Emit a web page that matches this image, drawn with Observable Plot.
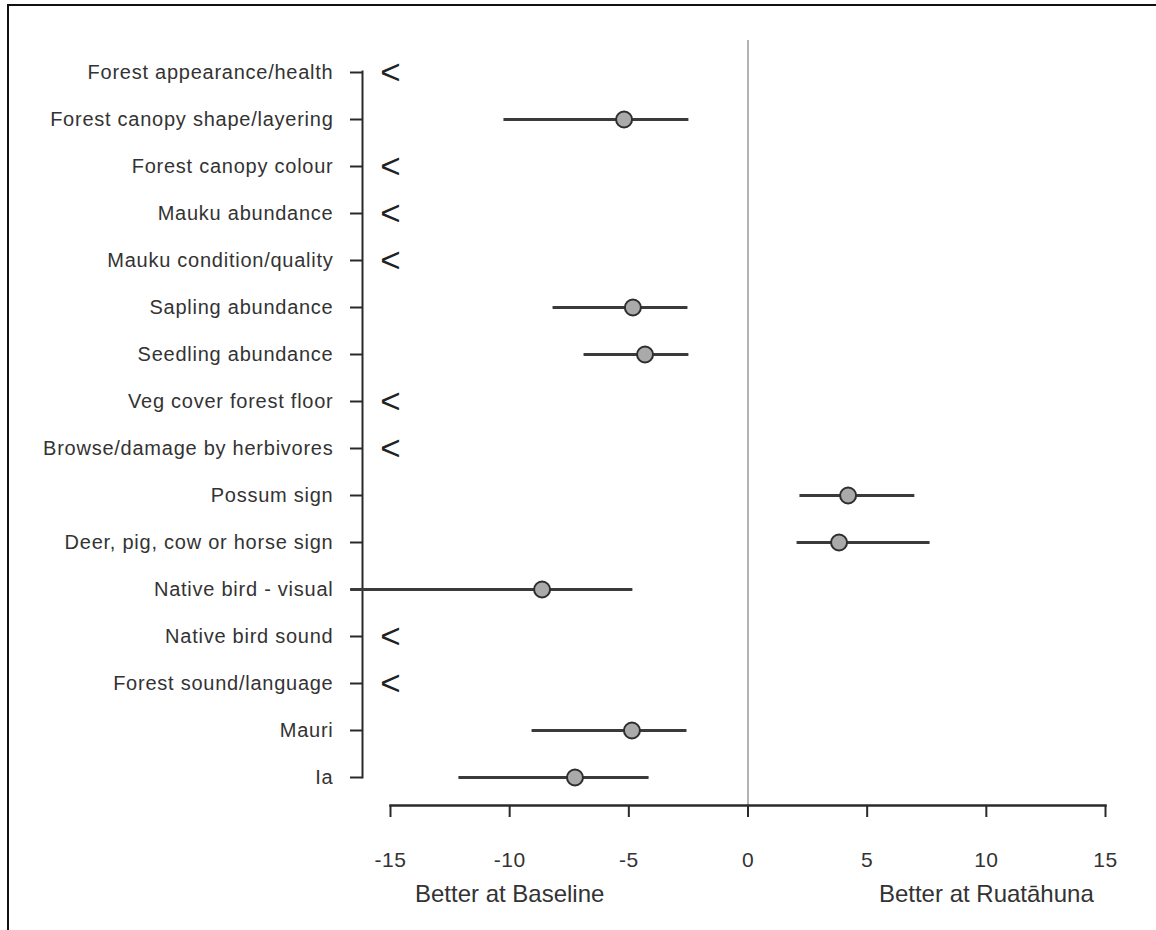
<!DOCTYPE html>
<html>
<head>
<meta charset="utf-8">
<script src="https://cdn.jsdelivr.net/npm/d3@7"></script>
<script src="https://cdn.jsdelivr.net/npm/@observablehq/plot@0.6"></script>
<style>
  html, body { margin: 0; padding: 0; background: #fff; }
  #wrap { position: relative; width: 1156px; height: 930px; overflow: hidden; background: #fff; }
  #chart { position: absolute; left: 0; top: 0; z-index: 1; }
  #border { position: absolute; left: 7px; top: 4px; width: 1300px; height: 1100px; z-index: 2;
            border-top: 2px solid #111; border-left: 2px solid #111; pointer-events: none; }
  g[aria-label="y-axis tick label"] text { letter-spacing: 0.75px; }
  g[aria-label="x-axis tick label"] text { letter-spacing: 0.5px; }
  g[aria-label="side label"] text { letter-spacing: 0.6px; }
</style>
</head>
<body>
<div id="wrap"><div id="chart"></div><div id="border"></div></div>
<script>
const categories = [
  "Forest appearance/health",
  "Forest canopy shape/layering",
  "Forest canopy colour",
  "Mauku abundance",
  "Mauku condition/quality",
  "Sapling abundance",
  "Seedling abundance",
  "Veg cover forest floor",
  "Browse/damage by herbivores",
  "Possum sign",
  "Deer, pig, cow or horse sign",
  "Native bird - visual",
  "Native bird sound",
  "Forest sound/language",
  "Mauri",
  "Ia"
];
const estimate = [null, -5.2, null, null, null, -4.83, -4.32, null, null, 4.2, 3.82, -8.64, null, null, -4.87, -7.26];
const lower    = [null, -10.24, null, null, null, -8.18, -6.88, null, null, 2.18, 2.06, -16.66, null, null, -9.06, -12.13];
const upper    = [null, -2.48, null, null, null, -2.52, -2.48, null, null, 7.0, 7.64, -4.83, null, null, -2.56, -4.15];
const xTicks = [-15, -10, -5, 0, 5, 10, 15];
const sideLabels = ["Better at Baseline", "Better at Ruatāhuna"];
const sideLabelAt = [-10, 10];

const xDomain = [-15, 15];
const rows = categories.map((c, i) => ({cat: c, est: estimate[i], lo: lower[i], hi: upper[i]}));
const withData = rows.filter(d => d.est != null);
const belowRange = rows.filter(d => d.est == null);
const sides = sideLabels.map((t, i) => ({label: t, x: sideLabelAt[i]}));

const ink = "#2a2a2a";
const chart = Plot.plot({
  width: 1156,
  height: 930,
  marginTop: 40,
  marginBottom: 125,
  marginLeft: 362,
  marginRight: 51,
  insetTop: 31,
  insetBottom: 28,
  insetLeft: 28,
  style: {fontFamily: "'Liberation Sans', Arial, sans-serif", color: ink, background: "#fff", overflow: "visible"},
  x: {domain: xDomain, nice: false},
  y: {domain: categories, type: "point", padding: 0},
  marks: [
    Plot.ruleX([0], {stroke: "#9a9a9a", strokeWidth: 1.5}),
    Plot.frame({anchor: "left", insetTop: 31, insetBottom: 28, stroke: ink, strokeWidth: 2}),
    Plot.frame({anchor: "bottom", insetLeft: 28, stroke: ink, strokeWidth: 2.5}),
    Plot.axisY({tickSize: 12, tickPadding: 17, fontSize: 20, stroke: ink, strokeWidth: 2, fill: "#333", label: null}),
    Plot.axisX({ticks: xTicks, tickSize: 12, tickPadding: 35, fontSize: 21, stroke: ink, strokeWidth: 2, fill: "#333", label: null, tickFormat: d => String(d)}),
    Plot.ruleY(withData, {y: "cat", x1: "lo", x2: "hi", stroke: "#3a3a3a", strokeWidth: 3}),
    Plot.dot(withData, {y: "cat", x: "est", r: 8, fill: "#aaaaaa", stroke: "#2e2e2e", strokeWidth: 2}),
    Plot.text(belowRange, {y: "cat", x: () => xDomain[0], text: () => "<", fontSize: 35, fontWeight: 500, fill: "#222", textAnchor: "middle"}),
    Plot.text(sides, {x: "x", text: "label", frameAnchor: "bottom", dy: 96, fontSize: 24, fill: "#333", textAnchor: "middle", ariaLabel: "side label"})
  ]
});
document.getElementById("chart").appendChild(chart);
</script>
</body>
</html>
